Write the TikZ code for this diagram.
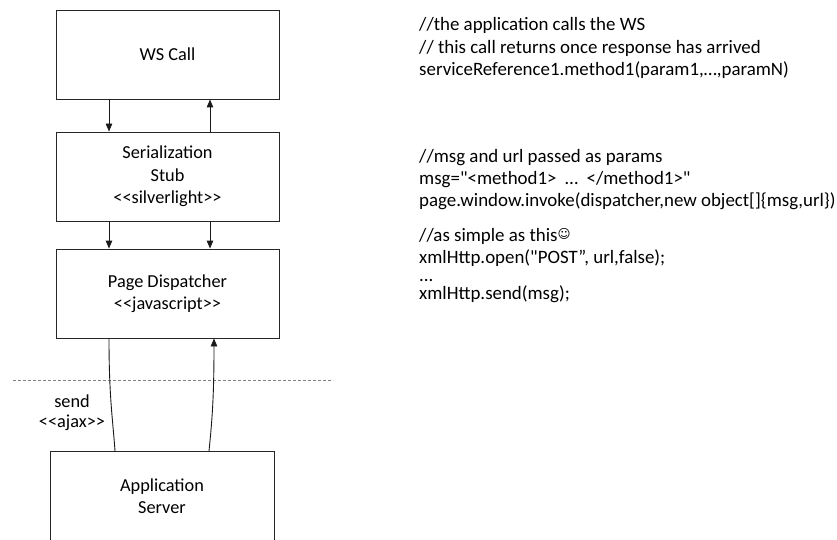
\documentclass[tikz,border=0pt]{standalone}
\usepackage{fontspec}
\setmainfont{Carlito}
\newfontfamily\symfont{DejaVu Sans}
\usetikzlibrary{arrows.meta,calc}
\begin{document}
\begin{tikzpicture}[x=1pt,y=-1pt,
  box/.style={draw=black!85,line width=0.9pt,minimum width=223pt,minimum height=89pt,align=center,inner sep=0pt,font=\fontsize{18.3}{22.5}\selectfont},
  conn/.style={draw=black!90,line width=0.9pt},
  tip/.style={-{Triangle[length=8pt,width=6.5pt]}},
  codeline/.style={anchor=base west,inner sep=0pt,font=\fontsize{18.9}{22}\selectfont},
  lbl/.style={align=center,inner sep=0pt,font=\fontsize{18.3}{20}\selectfont}]
\useasboundingbox (0,0) rectangle (837,540);
\clip (0,0) rectangle (837,540);
\node[box] (ws) at (167.5,54.5) {WS Call};
\node[box] (ser) at (167.5,176.5) {Serialization\\Stub\\{<}{<}silverlight{>}{>}};
\node[box] (page) at (167.5,293.5) {Page Dispatcher\\{<}{<}javascript{>}{>}};
\node[box,minimum width=224pt] (app) at (162,496) {Application\\Server};
\draw[conn,tip] ([xshift=-58.5pt]ws.south) -- ([xshift=-58.5pt]ser.north);
\draw[conn,tip] ([xshift=42.5pt]ser.north) -- ([xshift=42.5pt]ws.south);
\draw[conn,tip] ([xshift=-58.5pt]ser.south) -- ([xshift=-58.5pt]page.north);
\draw[conn,tip] ([xshift=42.5pt]ser.south) -- ([xshift=42.5pt]page.north);
\coordinate (dl) at (13,380);
\coordinate (dr) at (333,380);
\draw[gray,line width=0.9pt,dash pattern=on 3pt off 2pt] (dl) -- (dr);
\draw[conn] ([xshift=-58.5pt]page.south) .. controls +(0,60) and +(-2,-30) .. ([xshift=-47pt]app.north);
\draw[conn,tip] ([xshift=47pt]app.north) .. controls +(3,-30) and +(0,60) .. ([xshift=46.5pt]page.south);
\node[lbl] (send) at (72,413) {send\\{<}{<}ajax{>}{>}};
\node[codeline] (c1) at (419,31) {//the application calls the WS};
\node[codeline] (c2) at (419,54) {// this call returns once response has arrived};
\node[codeline] (c3) at (419,76) {serviceReference1.method1(param1,…,paramN)};
\node[codeline] (c4) at (419,163) {//msg and url passed as params};
\node[codeline] (c5) at (419,185) {msg=\textquotedbl{<}method1{>}\ \ …\ \ {<}/method1{>}\textquotedbl};
\node[codeline] (c6) at (419,206) {page.window.invoke(dispatcher,new object[]\{msg,url\})};
\node[codeline] (c7) at (419,241) {//as simple as this\raisebox{3pt}{\symfont\fontsize{12.5}{12.5}\selectfont ☺}};
\node[codeline] (c8) at (419,263) {xmlHttp.open(\textquotedbl POST”, url,false);};
\node[codeline] (c9) at (419,281) {...};
\node[codeline] (c10) at (419,299) {xmlHttp.send(msg);};
\end{tikzpicture}
\end{document}
